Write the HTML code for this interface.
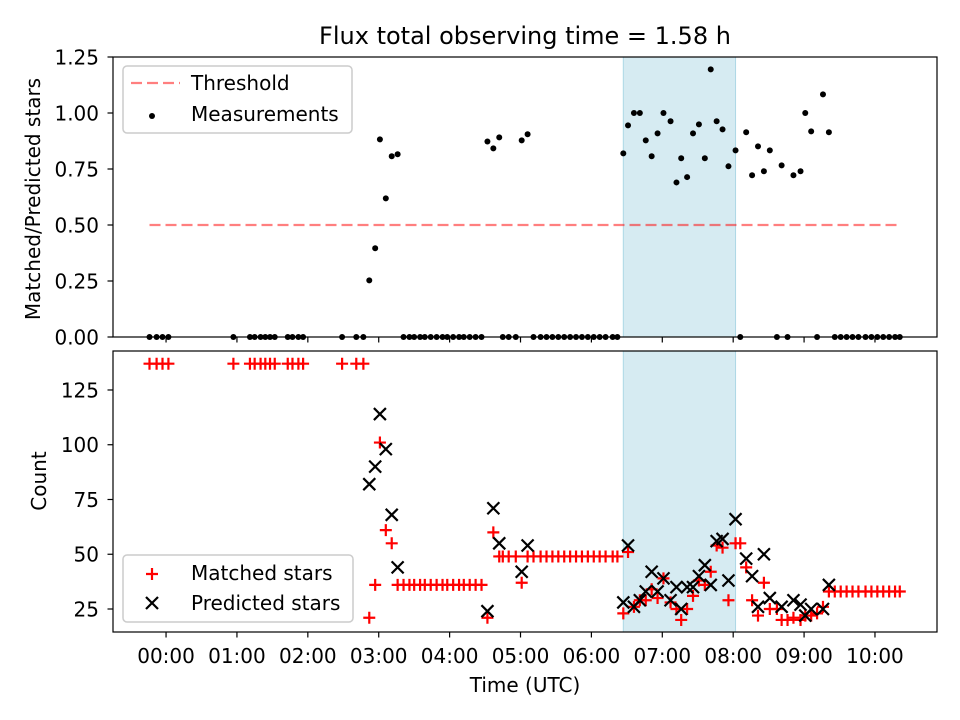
<!DOCTYPE html>
<html><head><meta charset="utf-8"><style>
body{margin:0;background:#fff;}
svg{display:block;font-family:"DejaVu Sans","Liberation Sans",sans-serif;}
</style></head><body>
<svg id="chart" width="960" height="720" viewBox="0 0 960 720"></svg>
<script>
// Data: time in minutes since 00:00 UTC
const times=[-14,-8,-3,2,57,71,75,80,84,88,92,103,107,112,116,149,161,167,
172,177,181,186,191,196,
201,206,210,215,219,224,229,234,238,243,248,252,257,262,267,
272,277,282,285,290,296,301,306,
311,317,322,327,332,337,342,347,352,357,362,367,372,378,382,
387,391,396,401,406,411,416,421,427,432,436,441,446,451,456,461,466,471,476,482,
486,491,496,501,506,511,517,521,526,531,537,541,546,551,556,561,
566,571,576,581,586,592,597,602,607,612,617,621];
const ratio=[0,0,0,0,0,0,0,0,0,0,0,0,0,0,0,0,0,0,
0.253,0.396,0.882,0.619,0.807,0.816,
0,0,0,0,0,0,0,0,0,0,0,0,0,0,0,
0.873,0.842,0.891,0,0,0,0.878,0.905,
0,0,0,0,0,0,0,0,0,0,0,0,0,0,0,
0.820,0.945,1.0,1.0,0.878,0.807,0.909,1.0,0.963,0.69,0.798,0.714,0.909,0.949,0.798,1.195,0.963,0.927,0.762,0.833,
0,0.914,0.722,0.851,0.74,0.833,0,0.766,0,0.722,0.74,1.0,0.918,0,1.083,0.914,
0,0,0,0,0,0,0,0,0,0,0,0];
const matched=[137,137,137,137,137,137,137,137,137,137,137,137,137,137,137,137,137,137,
21,36,101,61,55,36,
36,36,36,36,36,36,36,36,36,36,36,36,36,36,36,
21,60,49,49,49,49,37,49,
49,49,49,49,49,49,49,49,49,49,49,49,49,49,49,
23,51,26,29,29,34,30,39,28,25,20,25,31,38,36,42,54,53,29,55,
55,44,29,22,37,25,25,20,20,21,20,22,22,23,26,33,
33,33,33,33,33,33,33,33,33,33,33,33];
const predicted=[null,null,null,null,null,null,null,null,null,null,null,null,null,null,null,null,null,null,
82,90,114,98,68,44,
null,null,null,null,null,null,null,null,null,null,null,null,null,null,null,
24,71,55,null,null,null,42,54,
null,null,null,null,null,null,null,null,null,null,null,null,null,null,null,
28,54,26,29,33,42,33,39,29,35,25,35,35,40,45,36,56,57,38,66,
null,48,40,26,50,30,null,26,null,29,27,22,25,null,25,36,
null,null,null,null,null,null,null,null,null,null,null,null];
const threshold=0.5;
const windowStart=387, windowEnd=482;
const xTicks=[0,60,120,180,240,300,360,420,480,540,600];
const xTickLabels=["00:00","01:00","02:00","03:00","04:00","05:00","06:00","07:00","08:00","09:00","10:00"];
const topTicks=[0,0.25,0.5,0.75,1.0,1.25];
const topTickLabels=["0.00","0.25","0.50","0.75","1.00","1.25"];
const botTicks=[25,50,75,100,125];
const botTickLabels=["25","50","75","100","125"];

const NS="http://www.w3.org/2000/svg";
const svg=document.getElementById('chart');
function el(tag,attrs,parent){const e=document.createElementNS(NS,tag);for(const k in attrs)e.setAttribute(k,attrs[k]);(parent||svg).appendChild(e);return e;}
const L=113,R=937,T1=57,B1=337,T2=351,B2=632;
const xMin=-44.9,xMax=652.5;
const FS='20px';
function X(m){return L+(m-xMin)/(xMax-xMin)*(R-L);}
function Y1(v){return B1-(v-0)/1.25*(B1-T1);}
const bMin=14.5,bMax=142.8;
function Y2(v){return B2-(v-bMin)/(bMax-bMin)*(B2-T2);}

// title
let t=el('text',{x:525,y:44,'text-anchor':'middle','font-size':'24px',fill:'#000'});t.textContent="Flux total observing time = 1.58 h";



function panel(T,B,name){
  const g=el('g',{});
  
  
  const r=el('rect',{x:X(windowStart),y:T,width:X(windowEnd)-X(windowStart),height:B-T,fill:'#add8e6','fill-opacity':0.5,stroke:'#add8e6','stroke-width':1},g);
  
  
  return g;
}
function frame(T,B,g){el('rect',{x:L,y:T,width:R-L,height:B-T,fill:'none',stroke:'#000','stroke-width':1.2},g);}
function xAxis(T,B,g,labels){
  xTicks.forEach((m,i)=>{
    el('line',{x1:X(m),x2:X(m),y1:B,y2:B+5.5,stroke:'#000','stroke-width':1.2},g);
    if(labels){const tx=el('text',{x:X(m),y:B+31,'text-anchor':'middle','font-size':FS},g);tx.textContent=xTickLabels[i];
      
      }
  });
}
function yAxis(ticks,labs,Yf,g){
  ticks.forEach((v,i)=>{
    el('line',{x1:L-5.5,x2:L,y1:Yf(v),y2:Yf(v),stroke:'#000','stroke-width':1.2},g);
    const tx=el('text',{x:L-14,y:Yf(v)+7.5,'text-anchor':'end','font-size':FS},g);tx.textContent=labs[i];
    
    
  });
}

// top panel
const g1=panel(T1,B1,'ratio-panel');
const thr=el('line',{x1:X(times[0]),x2:X(times[times.length-1]),y1:Y1(threshold),y2:Y1(threshold),stroke:'#ff0000','stroke-opacity':0.5,'stroke-width':2.2,'stroke-dasharray':'11,5'},g1);


times.forEach((m,i)=>{
  const c=el('circle',{cx:X(m),cy:Y1(ratio[i]),r:3,fill:'#000'},g1);
  
  
});
frame(T1,B1,g1);xAxis(T1,B1,g1,false);yAxis(topTicks,topTickLabels,Y1,g1);
let yl=el('text',{transform:'translate(40,199) rotate(-90)','text-anchor':'middle','font-size':FS});yl.textContent="Matched/Predicted stars";



// top legend
const lg1=el('g',{});


el('rect',{x:123,y:66,width:229,height:67,rx:4,fill:'#fff','fill-opacity':0.8,stroke:'#ccc','stroke-width':1.5},lg1);
el('line',{x1:131,x2:180,y1:83,y2:83,stroke:'#ff0000','stroke-opacity':0.5,'stroke-width':2.2,'stroke-dasharray':'11,5'},lg1);
let lt=el('text',{x:191,y:90,'font-size':FS},lg1);lt.textContent="Threshold";
el('circle',{cx:152,cy:116,r:3,fill:'#000'},lg1);
lt=el('text',{x:191,y:121,'font-size':FS},lg1);lt.textContent="Measurements";

// bottom panel
const g2=panel(T2,B2,'count-panel');
function plus(x,y,g){return el('path',{d:`M${x-6},${y}H${x+6}M${x},${y-6}V${y+6}`,stroke:'#ff0000','stroke-width':2.2,fill:'none'},g);}
function cross(x,y,g){const s=6;return el('path',{d:`M${x-s},${y-s}L${x+s},${y+s}M${x-s},${y+s}L${x+s},${y-s}`,stroke:'#000','stroke-width':2.2,fill:'none'},g);}
times.forEach((m,i)=>{
  const p=plus(X(m),Y2(matched[i]),g2);
  
  
});
times.forEach((m,i)=>{
  if(predicted[i]==null)return;
  const c=cross(X(m),Y2(predicted[i]),g2);
  
  
});
frame(T2,B2,g2);xAxis(T2,B2,g2,true);yAxis(botTicks,botTickLabels,Y2,g2);
yl=el('text',{transform:'translate(46,481) rotate(-90)','text-anchor':'middle','font-size':FS});yl.textContent="Count";


let xl=el('text',{x:525,y:692,'text-anchor':'middle','font-size':FS});xl.textContent="Time (UTC)";



// bottom legend
const lg2=el('g',{});


el('rect',{x:123,y:555,width:230,height:67,rx:4,fill:'#fff','fill-opacity':0.8,stroke:'#ccc','stroke-width':1.5},lg2);
plus(152,574,lg2);
lt=el('text',{x:191,y:580,'font-size':FS},lg2);lt.textContent="Matched stars";
cross(152,603,lg2);
lt=el('text',{x:191,y:610,'font-size':FS},lg2);lt.textContent="Predicted stars";
</script>
</body></html>
